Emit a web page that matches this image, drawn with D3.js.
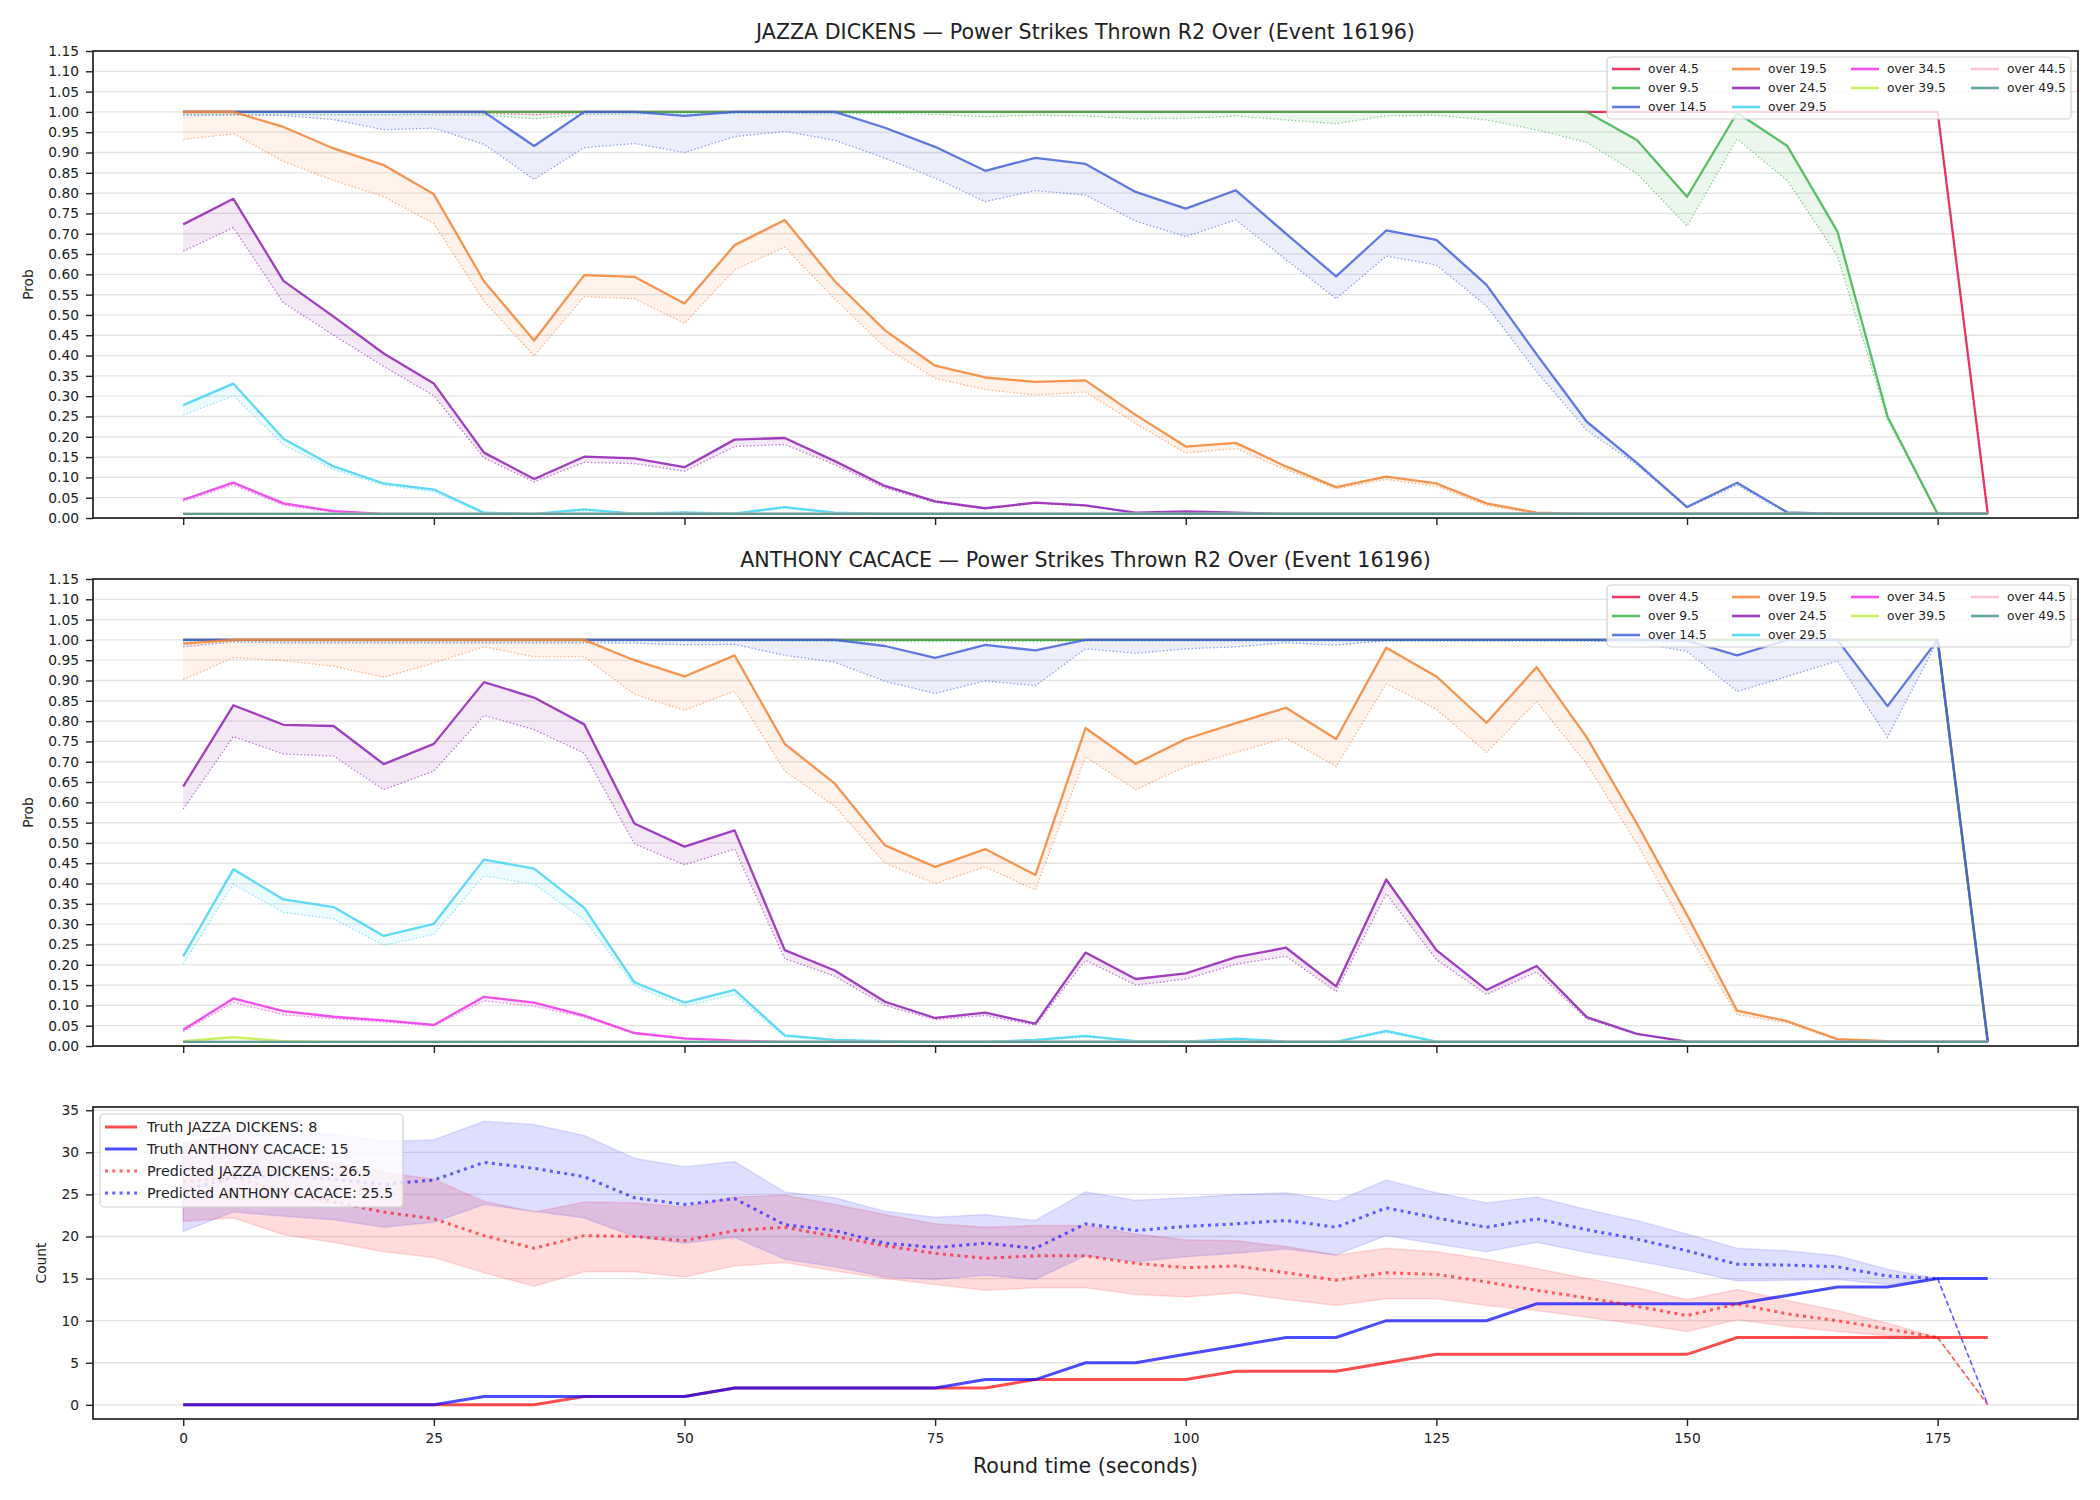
<!DOCTYPE html>
<html><head><meta charset="utf-8">
<script src="https://cdn.jsdelivr.net/npm/d3@7"></script>
<style>body{margin:0;background:#fff}svg{display:block;font-family:"DejaVu Sans",sans-serif}</style>
</head><body><svg id="c" width="2100" height="1500"></svg>
<script>
// ---------------- DATA ----------------
const times = [0,5,10,15,20,25,30,35,40,45,50,55,60,65,70,75,80,85,90,95,100,105,110,115,120,125,130,135,140,145,150,155,160,165,170,175,180];
const xTicks = [0,25,50,75,100,125,150,175];
const probTicks = [0,0.05,0.10,0.15,0.20,0.25,0.30,0.35,0.40,0.45,0.50,0.55,0.60,0.65,0.70,0.75,0.80,0.85,0.90,0.95,1.00,1.05,1.10,1.15];
const countTicks = [0,5,10,15,20,25,30,35];
const thresholds = ["over 4.5","over 9.5","over 14.5","over 19.5","over 24.5","over 29.5","over 34.5","over 39.5","over 44.5","over 49.5"];
const colors = ["#e6194b","#3cb44b","#4363d8","#f58231","#911eb4","#42d4f4","#f032e6","#bfef45","#fabed4","#469990"];

const flat = [.01,.01,.01,.01,.01,.01,.01,.01,.01,.01, .01,.01,.01,.01,.01,.01,.01,.01,.01,.01, .01,.01,.01,.01,.01,.01,.01,.01,.01,.01, .01,.01,.01,.01,.01,.01,.01];

// JAZZA DICKENS (solid = s, dotted = d)
const j45s  = [1,1,1,1,1,1,1,1,1,1, 1,1,1,1,1,1,1,1,1,1, 1,1,1,1,1,1,1,1,1,1, 1,1,1,1,1,1,.01];
const j45d  = [.999,.999,.999,.999,.999,.998,.997,.993,.998,.999, .999,.999,.999,.999,.999,.999,.999,.999,.999,.999, .999,.999,.999,.999,.999,.999,.999,.999,.999,.999, .999,.999,.999,.999,.999,.999,.01];
const j95s  = [1,1,1,1,1,1,1,1,1,1, 1,1,1,1,1,1,1,1,1,1, 1,1,1,1,1,1,1,1,1,.931, .791,.998,.916,.706,.250,.01,.01];
const j95d  = [.994,.994,.994,.993,.993,.993,.992,.983,.994,.995, .995,.996,.996,.995,.996,.994,.988,.992,.99,.983, .984,.99,.98,.971,.99,.992,.98,.956,.925,.848, .719,.933,.831,.645,.242,.01,.01];
const j145s = [1,1,1,1,1,1,1,.916,1,1, .99,1,1,1,.961,.914,.855,.887,.872,.803, .762,.807,.70,.595,.708,.685,.574,.403,.237,.136, .027,.087,.014,.01,.01,.01,.01];
const j145d = [.992,.992,.991,.981,.956,.96,.92,.834,.912,.922, .90,.939,.952,.93,.886,.837,.779,.806,.795,.731, .693,.734,.636,.54,.645,.623,.522,.36,.216,.131, .025,.081,.012,.01,.01,.01,.01];
const j195s = [1,1,.963,.91,.869,.797,.583,.437,.598,.594, .528,.672,.734,.583,.462,.375,.346,.335,.339,.254, .176,.185,.127,.076,.102,.085,.036,.013,.01,.01, .01,.01,.01,.01,.01,.01,.01];
const j195d = [.932,.946,.878,.831,.791,.725,.534,.399,.545,.54, .479,.611,.667,.539,.42,.344,.316,.303,.31,.233, .16,.171,.119,.072,.095,.078,.031,.011,.01,.01, .01,.01,.01,.01,.01,.01,.01];
const j245s = [.723,.786,.584,.496,.405,.331,.161,.096,.151,.147, .125,.193,.197,.14,.079,.041,.024,.038,.031,.013, .016,.013,.01,.01,.01,.01,.01,.01,.01,.01, .01,.01,.01,.01,.01,.01,.01];
const j245d = [.657,.715,.53,.45,.373,.301,.148,.089,.137,.134, .115,.176,.181,.131,.074,.038,.023,.036,.03,.012, .014,.012,.01,.01,.01,.01,.01,.01,.01,.01, .01,.01,.01,.01,.01,.01,.01];
const j295s = [.278,.331,.195,.127,.085,.07,.013,.01,.021,.011, .014,.011,.027,.013,.01,.01,.01,.01,.01,.01, .01,.01,.01,.01,.01,.01,.01,.01,.01,.01, .01,.01,.01,.01,.01,.01,.01];
const j295d = [.253,.301,.18,.119,.081,.064,.011,.01,.018,.01, .012,.01,.024,.011,.01,.01,.01,.01,.01,.01, .01,.01,.01,.01,.01,.01,.01,.01,.01,.01, .01,.01,.01,.01,.01,.01,.01];
const j345s = [.045,.087,.036,.017,.01,.01,.01,.01,.01,.01, .01,.01,.01,.01,.01,.01,.01,.01,.01,.01, .01,.01,.01,.01,.01,.01,.01,.01,.01,.01, .01,.01,.01,.01,.01,.01,.01];
const j345d = [.041,.081,.032,.014,.01,.01,.01,.01,.01,.01, .01,.01,.01,.01,.01,.01,.01,.01,.01,.01, .01,.01,.01,.01,.01,.01,.01,.01,.01,.01, .01,.01,.01,.01,.01,.01,.01];

// ANTHONY CACACE
const a45s  = [1,1,1,1,1,1,1,1,1,1, 1,1,1,1,1,1,1,1,1,1, 1,1,1,1,1,1,1,1,1,1, 1,1,1,1,1,1,.01];
const a45d  = [.999,.999,.999,.999,.999,.999,.999,.999,.999,.999, .999,.999,.999,.999,.999,.999,.999,.999,.999,.999, .999,.999,.999,.999,.999,.999,.999,.999,.999,.999, .999,.999,.999,.999,.999,.999,.01];
const a95s  = [1,1,1,1,1,1,1,1,1,1, 1,1,1,1,1,1,1,1,1,1, 1,1,1,1,1,1,1,1,1,1, 1,1,1,1,1,1,.01];
const a95d  = [.997,.997,.997,.997,.997,.997,.997,.997,.997,.997, .997,.997,.997,.996,.996,.995,.996,.996,.997,.997, .997,.997,.997,.997,.997,.997,.997,.997,.997,.997, .997,.997,.997,.997,.997,.997,.01];
const a145s = [1,1,1,1,1,1,1,1,1,1, 1,1,1,1,.985,.956,.988,.974,1,1, 1,1,1,1,1,1,1,1,1,1, .998,.962,1,1,.837,1,.01];
const a145d = [.983,.995,.993,.993,.993,.993,.993,.993,.993,.992, .988,.989,.962,.945,.898,.868,.899,.887,.978,.967, .978,.983,.993,.987,.998,.998,.998,.998,.998,.993, .972,.873,.91,.948,.76,.998,.01];
const a195s = [.991,1,1,1,1,1,1,1,1,.95, .91,.962,.744,.646,.494,.441,.485,.421,.783,.695, .756,.795,.833,.756,.981,.91,.796,.933,.76,.548, .323,.087,.061,.017,.012,.01,.01];
const a195d = [.902,.956,.949,.935,.908,.943,.983,.958,.958,.866, .827,.874,.677,.59,.45,.40,.441,.384,.712,.631, .688,.723,.758,.688,.892,.829,.723,.848,.694,.498, .281,.077,.057,.015,.011,.01,.01];
const a245s = [.639,.839,.791,.788,.694,.744,.896,.858,.792,.548, .491,.531,.236,.186,.109,.069,.082,.055,.23,.165, .179,.219,.242,.147,.41,.236,.138,.197,.071,.03, .011,.01,.01,.01,.01,.01,.01];
const a245d = [.583,.762,.719,.714,.631,.677,.814,.779,.721,.498, .446,.485,.215,.172,.10,.065,.075,.051,.211,.15, .165,.201,.221,.134,.375,.213,.127,.182,.067,.029, .01,.01,.01,.01,.01,.01,.01];
const a295s = [.221,.435,.361,.342,.271,.301,.459,.437,.34,.157, .107,.138,.026,.015,.012,.01,.01,.015,.025,.012, .011,.018,.011,.01,.037,.011,.01,.01,.01,.01, .01,.01,.01,.01,.01,.01,.01];
const a295d = [.202,.398,.329,.313,.248,.275,.419,.398,.311,.148, .098,.127,.023,.013,.011,.01,.01,.013,.022,.011, .01,.015,.01,.01,.033,.01,.01,.01,.01,.01, .01,.01,.01,.01,.01,.01,.01];
const a345s = [.04,.117,.086,.072,.063,.052,.121,.107,.075,.032, .019,.013,.01,.01,.01,.01,.01,.01,.01,.01, .01,.01,.01,.01,.01,.01,.01,.01,.01,.01, .01,.01,.01,.01,.01,.01,.01];
const a345d = [.036,.107,.077,.067,.059,.05,.111,.098,.071,.03, .017,.012,.01,.01,.01,.01,.01,.01,.01,.01, .01,.01,.01,.01,.01,.01,.01,.01,.01,.01, .01,.01,.01,.01,.01,.01,.01];
const a395s = [.012,.022,.012,.01,.01,.01,.01,.01,.01,.01, .01,.01,.01,.01,.01,.01,.01,.01,.01,.01, .01,.01,.01,.01,.01,.01,.01,.01,.01,.01, .01,.01,.01,.01,.01,.01,.01];
const a395d = [.011,.018,.011,.01,.01,.01,.01,.01,.01,.01, .01,.01,.01,.01,.01,.01,.01,.01,.01,.01, .01,.01,.01,.01,.01,.01,.01,.01,.01,.01, .01,.01,.01,.01,.01,.01,.01];

// Count panel
const truthJazza   = [0,0,0,0,0,0,0,0,1,1, 1,2,2,2,2,2,2,3,3,3, 3,4,4,4,5,6,6,6,6,6, 6,8,8,8,8,8,8];
const truthAnthony = [0,0,0,0,0,0,1,1,1,1, 1,2,2,2,2,2,3,3,5,5, 6,7,8,8,10,10,10,12,12,12, 12,12,13,14,14,15,15];
const predJazza    = [26.5,27.0,25.3,24.1,22.9,22.1,20.1,18.6,20.1,20.0, 19.5,20.7,21.1,20.0,18.9,18.0,17.4,17.7,17.7,16.8, 16.3,16.5,15.7,14.8,15.7,15.5,14.6,13.6,12.7,11.7, 10.6,12.0,10.8,10.0,9.0,8.0,0];
const predAnthony  = [25.5,27.0,27.2,26.8,26.2,26.7,28.8,28.1,27.1,24.6, 23.8,24.5,21.4,20.7,19.2,18.7,19.2,18.6,21.5,20.7, 21.2,21.5,21.9,21.1,23.4,22.2,21.1,22.1,20.8,19.7, 18.3,16.7,16.6,16.4,15.3,15.0,0];
const jazzaHi   = [31.3,31.9,29.6,28.7,27.6,26.8,24.2,22.9,24.1,24.0, 23.5,24.7,24.9,23.8,22.6,21.5,21.1,21.3,21.3,20.3, 19.6,19.5,18.8,17.8,18.6,18.2,17.3,16.2,15.0,13.9, 12.5,13.7,12.4,11.2,9.7,8.0,0];
const jazzaLo   = [21.8,22.2,20.2,19.3,18.2,17.5,15.7,14.1,15.8,15.8, 15.2,16.5,16.9,15.9,15.0,14.3,13.6,13.9,13.9,13.1, 12.8,13.3,12.5,11.8,12.6,12.6,11.8,11.2,10.4,9.6, 8.7,10.1,9.3,8.7,8.2,8.0,0];
const anthonyHi = [31.0,32.2,32.0,32.2,31.3,31.5,33.7,33.3,32.0,29.3, 28.3,28.9,25.3,24.6,23.0,22.3,22.6,21.9,25.3,24.3, 24.6,25.0,25.2,24.2,26.7,25.2,24.0,24.7,23.2,21.9, 20.3,18.6,18.3,17.7,16.1,15.0,0];
const anthonyLo = [20.6,22.9,22.4,22.0,21.1,21.7,23.8,23.0,22.2,20.0, 19.2,19.9,17.3,16.4,15.2,14.9,15.4,14.9,17.7,17.0, 17.6,18.0,18.5,17.8,20.1,19.1,18.2,19.3,18.1,17.1, 16.0,14.7,14.8,14.9,14.3,15.0,0];

const jazzaSolids   = [j45s,j95s,j145s,j195s,j245s,j295s,j345s,flat,flat,flat];
const jazzaDotted   = [j45d,j95d,j145d,j195d,j245d,j295d,j345d,flat,flat,flat];
const anthonySolids = [a45s,a95s,a145s,a195s,a245s,a295s,a345s,a395s,flat,flat];
const anthonyDotted = [a45d,a95d,a145d,a195d,a245d,a295d,a345d,a395d,flat,flat];

// ---------------- DRAWING ----------------
const svg = d3.select("#c");
const FONT = "DejaVu Sans";
const X0 = 93, X1 = 2078;
const x = d3.scaleLinear().domain([-9,189]).range([X0,X1]);
const INK = "#222";

function styleAxis(g){
  g.attr("font-family",FONT).attr("font-size",13.8);
  g.select(".domain").remove();
  g.selectAll(".tick line").attr("stroke",INK).attr("stroke-width",1.4);
  g.selectAll(".tick text").attr("fill",INK);
}

function grid(g,y,ticks){
  g.append("g").selectAll("line").data(ticks).join("line")
    .attr("x1",X0).attr("x2",X1).attr("y1",d=>y(d)).attr("y2",d=>y(d))
    .attr("stroke","#e3e3e3").attr("stroke-width",1.3);
}

function frame(g,top,bottom){
  g.append("rect").attr("x",X0).attr("y",top).attr("width",X1-X0).attr("height",bottom-top)
    .attr("fill","none").attr("stroke",INK).attr("stroke-width",1.7);
}

function probPanel(top,bottom,title,solids,dotteds){
  const g = svg.append("g");
  const y = d3.scaleLinear().domain([0,1.15]).range([bottom,top]);
  grid(g,y,probTicks);
  thresholds.forEach((t,i)=>{
    const pts = times.map((tm,k)=>({t:tm,a:solids[i][k],b:dotteds[i][k]}));
    g.append("path").datum(pts)
      .attr("d",d3.area().x(d=>x(d.t)).y0(d=>y(d.b)).y1(d=>y(d.a)))
      .attr("fill",colors[i]).attr("fill-opacity",0.1);
    g.append("path").datum(pts)
      .attr("d",d3.line().x(d=>x(d.t)).y(d=>y(d.a)))
      .attr("fill","none").attr("stroke",colors[i]).attr("stroke-opacity",0.85)
      .attr("stroke-width",2.3).attr("stroke-linejoin","round");
    g.append("path").datum(pts)
      .attr("d",d3.line().x(d=>x(d.t)).y(d=>y(d.b)))
      .attr("fill","none").attr("stroke",colors[i]).attr("stroke-opacity",0.6)
      .attr("stroke-width",1.3).attr("stroke-dasharray","1.4,2.2");
  });
  const ya = g.append("g").attr("transform",`translate(${X0},0)`)
    .call(d3.axisLeft(y).tickValues(probTicks).tickFormat(d3.format(".2f")).tickSize(7).tickPadding(7));
  styleAxis(ya);
  const xa = g.append("g").attr("transform",`translate(0,${bottom})`)
    .call(d3.axisBottom(x).tickValues(xTicks).tickFormat("").tickSize(7));
  styleAxis(xa);
  frame(g,top,bottom);
  g.append("text").attr("x",(X0+X1)/2).attr("y",top-12).attr("text-anchor","middle")
    .attr("font-family",FONT).attr("font-size",20.6).attr("fill",INK).text(title);
  g.append("text").attr("transform",`translate(33,${(top+bottom)/2}) rotate(-90)`)
    .attr("text-anchor","middle").attr("font-family",FONT).attr("font-size",13.8).attr("fill",INK).text("Prob");
  // legend
  const lg = g.append("g");
  lg.append("rect").attr("x",1607).attr("y",top+6).attr("width",464).attr("height",62).attr("rx",4)
    .attr("fill","#fff").attr("fill-opacity",0.8).attr("stroke","#d0d0d0").attr("stroke-width",1.2);
  const colX = [1612,1732,1851,1971];
  const colOf = [0,0,0,1,1,1,2,2,3,3], rowOf = [0,1,2,0,1,2,0,1,0,1];
  thresholds.forEach((t,i)=>{
    const lx = colX[colOf[i]], ly = top+18+rowOf[i]*19;
    lg.append("line").attr("x1",lx).attr("x2",lx+28).attr("y1",ly).attr("y2",ly)
      .attr("stroke",colors[i]).attr("stroke-opacity",0.85).attr("stroke-width",2.6);
    lg.append("text").attr("x",lx+36).attr("y",ly).attr("dy","0.35em")
      .attr("font-family",FONT).attr("font-size",12.3).attr("fill",INK).text(t);
  });
}

probPanel(51,518,"JAZZA DICKENS — Power Strikes Thrown R2 Over (Event 16196)",jazzaSolids,jazzaDotted);
probPanel(579,1046,"ANTHONY CACACE — Power Strikes Thrown R2 Over (Event 16196)",anthonySolids,anthonyDotted);

// ---- Count panel ----
(function(){
  const top = 1107, bottom = 1419;
  const g = svg.append("g");
  const y = d3.scaleLinear().domain([-1.685,35.385]).range([bottom,top]);
  grid(g,y,countTicks);
  const rows = times.map((t,k)=>({t,tj:truthJazza[k],ta:truthAnthony[k],pj:predJazza[k],pa:predAnthony[k],
    jh:jazzaHi[k],jl:jazzaLo[k],ah:anthonyHi[k],al:anthonyLo[k]}));
  const band = (lo,hi)=>d3.area().x(d=>x(d.t)).y0(d=>y(d[lo])).y1(d=>y(d[hi]));
  g.append("path").datum(rows).attr("d",band("jl","jh"))
    .attr("fill","#ff0000").attr("fill-opacity",0.14).attr("stroke","#ff0000").attr("stroke-opacity",0.12).attr("stroke-width",1.5);
  g.append("path").datum(rows).attr("d",band("al","ah"))
    .attr("fill","#0000ff").attr("fill-opacity",0.13).attr("stroke","#0000ff").attr("stroke-opacity",0.1).attr("stroke-width",1.5);
  const ln = k=>d3.line().x(d=>x(d.t)).y(d=>y(d[k]));
  const main = rows.slice(0, rows.length-1);
  const tail = rows.slice(rows.length-2);
  g.append("path").datum(rows).attr("d",ln("tj")).attr("fill","none").attr("stroke","#ff0000").attr("stroke-opacity",0.7).attr("stroke-width",3);
  g.append("path").datum(rows).attr("d",ln("ta")).attr("fill","none").attr("stroke","#0000ff").attr("stroke-opacity",0.7).attr("stroke-width",3);
  [["pj","#ff0000"],["pa","#0000ff"]].forEach(([k,c])=>{
    g.append("path").datum(main).attr("d",ln(k)).attr("fill","none").attr("stroke",c).attr("stroke-opacity",0.6).attr("stroke-width",3).attr("stroke-dasharray","3,4.3");
    g.append("path").datum(tail).attr("d",ln(k)).attr("fill","none").attr("stroke",c).attr("stroke-opacity",0.6).attr("stroke-width",1.6).attr("stroke-dasharray","5,3");
  });

  const ya = g.append("g").attr("transform",`translate(${X0},0)`)
    .call(d3.axisLeft(y).tickValues(countTicks).tickFormat(d3.format("d")).tickSize(7).tickPadding(7));
  styleAxis(ya);
  const xa = g.append("g").attr("transform",`translate(0,${bottom})`)
    .call(d3.axisBottom(x).tickValues(xTicks).tickFormat(d3.format("d")).tickSize(7).tickPadding(7));
  styleAxis(xa);
  frame(g,top,bottom);
  g.append("text").attr("transform",`translate(46,${(top+bottom)/2}) rotate(-90)`)
    .attr("text-anchor","middle").attr("font-family",FONT).attr("font-size",13.8).attr("fill",INK).text("Count");
  g.append("text").attr("x",(X0+X1)/2).attr("y",1473).attr("text-anchor","middle")
    .attr("font-family",FONT).attr("font-size",20.6).attr("fill",INK).text("Round time (seconds)");
  // legend
  const lg = g.append("g");
  lg.append("rect").attr("x",100).attr("y",1114).attr("width",303).attr("height",93).attr("rx",4)
    .attr("fill","#fff").attr("fill-opacity",0.8).attr("stroke","#d0d0d0").attr("stroke-width",1.2);
  const items = [
    {label:"Truth JAZZA DICKENS: 8", color:"#ff0000", op:0.7, dash:null},
    {label:"Truth ANTHONY CACACE: 15", color:"#0000ff", op:0.7, dash:null},
    {label:"Predicted JAZZA DICKENS: 26.5", color:"#ff0000", op:0.6, dash:"3,4.3"},
    {label:"Predicted ANTHONY CACACE: 25.5", color:"#0000ff", op:0.6, dash:"3,4.3"}
  ];
  const rowsY = [1127,1149,1171,1193];
  items.forEach((it,i)=>{
    const l = lg.append("line").attr("x1",105).attr("x2",137).attr("y1",rowsY[i]).attr("y2",rowsY[i])
      .attr("stroke",it.color).attr("stroke-opacity",it.op).attr("stroke-width",3);
    if(it.dash) l.attr("stroke-dasharray",it.dash);
    lg.append("text").attr("x",147).attr("y",rowsY[i]).attr("dy","0.35em")
      .attr("font-family",FONT).attr("font-size",14.3).attr("fill",INK).text(it.label);
  });
})();
</script></body></html>
